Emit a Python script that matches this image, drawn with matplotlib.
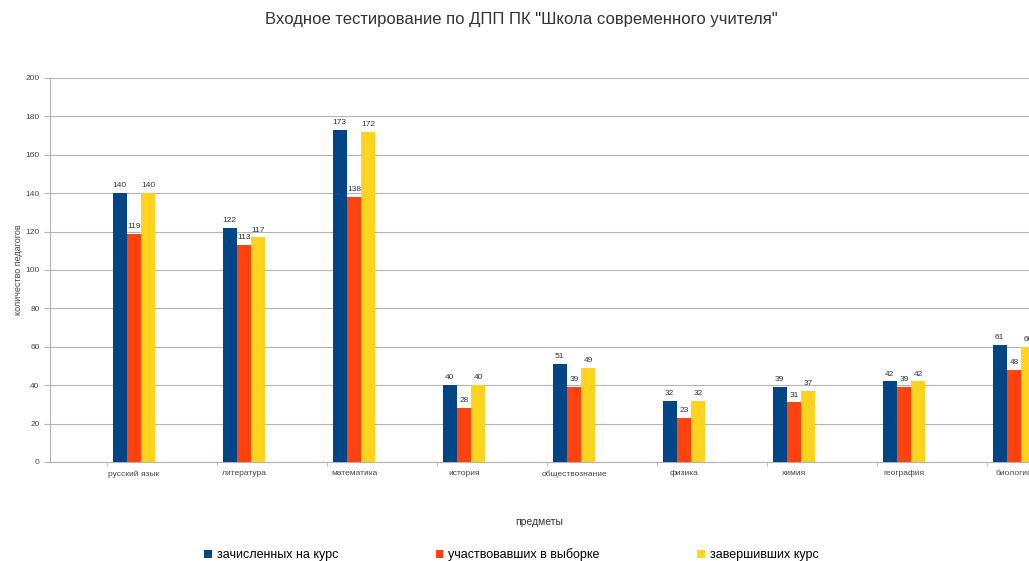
import numpy as np
import matplotlib
matplotlib.use("Agg")
import matplotlib.pyplot as plt

# data
subjects = ["русский язык", "литература", "математика", "история", "обществознание",
            "физика", "химия", "география", "биология"]
enrolled = [140, 122, 173, 40, 51, 32, 39, 42, 61]
sampled = [119, 113, 138, 28, 39, 23, 31, 39, 48]
completed = [140, 117, 172, 40, 49, 32, 37, 42, 60]
series_names = ["зачисленных на курс", "участвовавших в выборке", "завершивших курс"]
colors = ["#004586", "#ff420e", "#ffd320"]

plt.rcParams['font.family'] = ['Liberation Sans', 'DejaVu Sans']

fig = plt.figure(figsize=(10.29, 5.61), dpi=100)
ax = fig.add_axes([50 / 1029, (561 - 462) / 561, 1 - 50 / 1029, (462 - 78) / 561])

x = np.arange(len(subjects))
w = 0.13
for k, (vals, name, col) in enumerate(zip([enrolled, sampled, completed], series_names, colors)):
    pos = x + (k - 1) * w
    ax.bar(pos, vals, width=w, color=col, label=name, zorder=3)
    for px, v in zip(pos, vals):
        ax.text(px, v + 2, str(v), ha="center", va="bottom", fontsize=6, color="#333333", zorder=4)

ax.set_xlim(-0.764, 8.136)
ax.set_ylim(0, 200)
ax.set_yticks(range(0, 201, 20))
ax.set_xticks(x)
ax.set_xticklabels(subjects, fontsize=6, color="#444444")
ax.tick_params(axis="x", length=0, pad=6)
ax.set_xticks(x - 0.25, minor=True)
ax.tick_params(axis="x", which="minor", length=3, color="#b3b3b3")
ax.tick_params(axis="y", labelsize=6, colors="#444444", length=4, color="#b3b3b3")
ax.grid(axis="y", color="#b3b3b3", linewidth=0.8, zorder=0)
for s in ["top", "right"]:
    ax.spines[s].set_visible(False)
ax.spines["left"].set_color("#b3b3b3")
ax.spines["bottom"].set_color("#b3b3b3")

ax.set_ylabel("количество педагогов", fontsize=6.5, color="#444444", labelpad=2)
ax.set_xlabel("предметы", fontsize=7.5, color="#333333", labelpad=28)

fig.suptitle('Входное тестирование по ДПП ПК "Школа современного учителя"',
             x=0.507, y=0.978, fontsize=12, color="#333333")

fig.legend(loc="lower center", bbox_to_anchor=(0.497, -0.02), ncol=3, frameon=False,
           fontsize=9, handlelength=0.6, handleheight=0.6, handletextpad=0.4,
           columnspacing=7.8)

fig.savefig("out.png", dpi=100)
